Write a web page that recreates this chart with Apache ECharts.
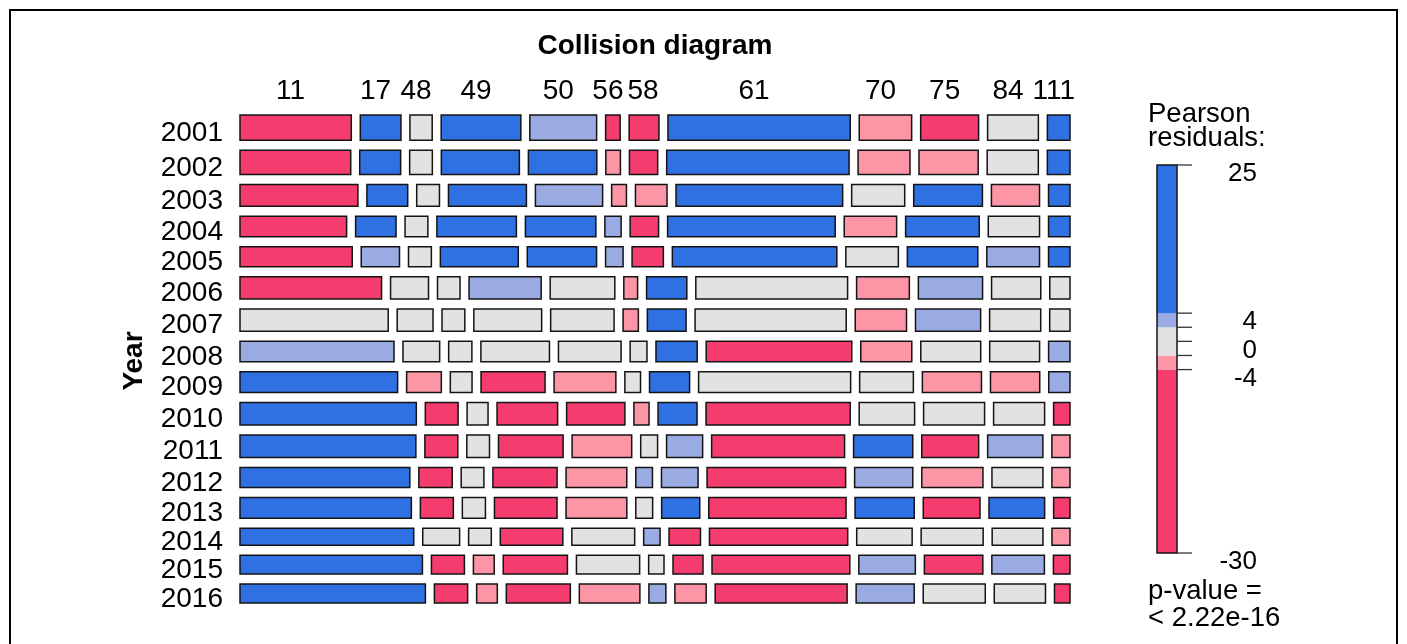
<!DOCTYPE html>
<html>
<head>
<meta charset="utf-8">
<title>Collision diagram</title>
<script src="https://cdn.jsdelivr.net/npm/echarts@6/dist/echarts.min.js"></script>
<style>
    html, body { margin: 0; padding: 0; background: #fff; }
    #main { width: 1407px; height: 644px; }
</style>
</head>
<body>
<div id="main"></div>
<script>
// years (rows) and collision types (columns)
var years = ['2001', '2002', '2003', '2004', '2005', '2006', '2007', '2008',
             '2009', '2010', '2011', '2012', '2013', '2014', '2015', '2016'];
var collisionTypes = ['11', '17', '48', '49', '50', '56', '58', '61', '70', '75', '84', '111'];

// counts per year
var counts = [
    [605, 221, 121, 433, 363, 79, 162, 991, 285, 315, 276, 123],
    [576, 213, 118, 406, 356, 76, 147, 949, 270, 308, 266, 118],
    [549, 190, 106, 363, 313, 69, 147, 776, 247, 320, 224, 100],
    [472, 179, 101, 352, 312, 72, 126, 742, 232, 326, 227, 95],
    [481, 164, 98, 334, 297, 75, 134, 705, 225, 302, 226, 92],
    [679, 182, 108, 346, 310, 66, 193, 728, 253, 308, 236, 97],
    [708, 171, 109, 324, 303, 73, 185, 722, 245, 311, 244, 97],
    [676, 161, 102, 301, 275, 74, 181, 639, 224, 263, 219, 94],
    [704, 155, 97, 286, 276, 70, 179, 679, 240, 264, 220, 95],
    [850, 158, 101, 292, 281, 73, 188, 695, 267, 294, 246, 79],
    [844, 158, 109, 310, 286, 81, 173, 638, 284, 273, 265, 87],
    [733, 144, 98, 277, 262, 72, 158, 598, 251, 264, 220, 78],
    [764, 147, 103, 279, 271, 75, 170, 612, 264, 253, 248, 73],
    [636, 135, 83, 229, 230, 60, 115, 506, 203, 227, 186, 66],
    [736, 133, 84, 259, 255, 62, 121, 556, 228, 236, 212, 67],
    [753, 135, 84, 260, 246, 69, 127, 536, 236, 252, 208, 63]
];

// Pearson residuals per tile (estimated from the shading)
var residuals = [
    [-29.2, 7.0, 0.3, 12.4, 3.6, -4.6, -7.6, 25.0, -3.1, -4.9, -0.8, 6.8],
    [-29.6, 7.1, 0.5, 9.9, 5.4, -2.6, -10.1, 23.8, -3.4, -2.8, -1.0, 6.7],
    [-22.8, 6.7, 0.4, 9.4, 3.2, -2.4, -2.7, 11.1, -1.2, 7.2, -3.3, 4.5],
    [-30.0, 5.5, 0.6, 10.2, 6.9, 2.6, -9.2, 10.9, -3.0, 11.8, -0.5, 4.6],
    [-26.3, 2.5, 0.6, 8.4, 5.4, 3.1, -5.2, 8.6, -1.1, 8.4, 2.4, 4.4],
    [-5.6, 1.2, 0.2, 3.2, 0.6, -2.3, 8.6, 0.5, -2.7, 2.6, -1.0, 0.4],
    [-0.3, -0.3, 0.5, -1.4, -0.2, -2.2, 6.1, -0.1, -3.2, 3.1, -0.3, 0.4],
    [2.9, 0.1, 0.6, -0.6, -0.9, 1.0, 9.7, -4.5, -2.5, -1.6, -1.2, 2.2],
    [6.3, -2.1, -0.4, -5.2, -2.3, 0.0, 8.3, 1.0, -0.5, -2.9, -2.1, 2.1],
    [20.6, -5.2, -0.9, -9.1, -5.9, -2.1, 7.1, -4.6, 1.0, -0.9, 0.1, -6.2],
    [19.7, -5.2, 0.3, -5.1, -3.0, 1.0, 2.5, -13.2, 5.8, -6.1, 3.3, -2.4],
    [14.5, -4.3, 0.3, -5.2, -2.8, 2.2, 2.6, -8.7, 3.6, -2.5, -0.3, -2.5],
    [15.9, -4.8, 0.6, -7.0, -2.8, 1.0, 5.4, -9.8, 5.6, -6.0, 5.3, -6.0],
    [16.3, 0.8, 0.4, -6.0, -0.3, 2.2, -4.5, -7.8, 1.1, 0.1, -0.6, -2.2],
    [22.1, -4.7, -2.3, -5.3, -0.6, -1.0, -6.5, -9.3, 2.2, -4.5, 2.4, -6.0],
    [24.9, -4.2, -2.4, -5.0, -2.5, 3.0, -3.6, -12.6, 3.5, 0.1, -0.6, -7.5]
];

// shading: |r| > 2 light, |r| > 4 full
var shadeBreaks = [-4, -2, 2, 4];
var shadeColors = ['#f43d6e', '#fc96a6', '#e2e2e2', '#9aabe3', '#2f70e3'];
var legendLabelValues = [4, 0, -4];
var legendTickValues = [4, 2, 0, -2, -4];

var FONT = "'Liberation Sans', Arial, sans-serif";
var gapX = 9 / 830, gapY = 10 / 488;

function shade(r) {
    var i = 0;
    while (i < shadeBreaks.length && r > shadeBreaks[i]) i++;
    return shadeColors[i];
}

var measureCtx = document.createElement('canvas').getContext('2d');
measureCtx.font = '28px ' + FONT;
function textWidth(s) { return measureCtx.measureText(s).width; }

// mosaic layout: rows by year total, tiles by share within the year
var rowTotals = counts.map(function (row) {
    return row.reduce(function (a, b) { return a + b; }, 0);
});
var grand = rowTotals.reduce(function (a, b) { return a + b; }, 0);
var availX = 1 - (collisionTypes.length - 1) * gapX;
var availY = 1 - (years.length - 1) * gapY;

var tiles = [], rowMids = [], colMids = [];
var y = 0;
counts.forEach(function (row, i) {
    var h = availY * rowTotals[i] / grand, x = 0;
    row.forEach(function (c, j) {
        var w = availX * c / rowTotals[i];
        tiles.push([x, x + w, y, y + h, residuals[i][j]]);
        if (i === 0) colMids.push([x + w / 2, j]);
        x += w + gapX;
    });
    rowMids.push([y + h / 2, i]);
    y += h + gapY;
});

// column labels sit over the first row, nudged apart when they would touch
function columnLabelXs(api) {
    var xs = [], prevRight = -Infinity;
    colMids.forEach(function (m, j) {
        var w = textWidth(collisionTypes[j]);
        var cx = api.coord([m[0], 0])[0] - 5;
        if (cx - w / 2 < prevRight + 4) cx = prevRight + 4 + w / 2;
        xs.push(cx);
        prevRight = cx + w / 2;
    });
    return xs;
}

var allRes = [].concat.apply([], residuals);
var resMin = Math.min.apply(null, allRes), resMax = Math.max.apply(null, allRes);
var edges = [resMin].concat(shadeBreaks, [resMax]);
var legendPieces = [];
for (var k = 0; k < shadeColors.length; k++) legendPieces.push([edges[k], edges[k + 1], k]);
var legendTicks = [resMax].concat(legendTickValues, [resMin]);
var legendLabels = [resMax].concat(legendLabelValues, [resMin]);

var myChart = echarts.init(document.getElementById('main'));

var option = {
    animation: false,
    backgroundColor: '#fff',
    grid: [
        {left: 240, top: 115, width: 830, height: 488},
        {left: 1157, top: 165, width: 20, height: 388}
    ],
    xAxis: [
        {gridIndex: 0, type: 'value', min: 0, max: 1, show: false},
        {gridIndex: 1, type: 'value', min: 0, max: 1, show: false}
    ],
    yAxis: [
        {gridIndex: 0, type: 'value', min: 0, max: 1, inverse: true, show: false},
        {gridIndex: 1, type: 'value', min: resMin, max: resMax, show: false}
    ],
    series: [
        {
            // mosaic tiles
            type: 'custom', xAxisIndex: 0, yAxisIndex: 0,
            data: tiles,
            renderItem: function (params, api) {
                var p0 = api.coord([api.value(0), api.value(2)]);
                var p1 = api.coord([api.value(1), api.value(3)]);
                return {
                    type: 'rect',
                    shape: {x: p0[0], y: p0[1], width: p1[0] - p0[0], height: p1[1] - p0[1]},
                    style: {fill: shade(api.value(4)), stroke: '#141414', lineWidth: 1.5}
                };
            }
        },
        {
            // year labels
            type: 'custom', xAxisIndex: 0, yAxisIndex: 0,
            data: rowMids,
            renderItem: function (params, api) {
                var p = api.coord([0, api.value(0)]);
                return {
                    type: 'text', x: p[0] - 17, y: p[1] + 5.5,
                    style: {
                        text: years[api.value(1)], fill: '#000',
                        font: '28px ' + FONT,
                        textAlign: 'right', textVerticalAlign: 'middle'
                    }
                };
            }
        },
        {
            // collision type labels
            type: 'custom', xAxisIndex: 0, yAxisIndex: 0,
            data: colMids,
            renderItem: function (params, api) {
                var xs = columnLabelXs(api);
                var j = api.value(1);
                var p = api.coord([0, 0]);
                return {
                    type: 'text', x: xs[j], y: p[1] - 24,
                    style: {
                        text: collisionTypes[j], fill: '#000',
                        font: '28px ' + FONT,
                        textAlign: 'center', textVerticalAlign: 'middle'
                    }
                };
            }
        },
        {
            // legend colour bar
            type: 'custom', xAxisIndex: 1, yAxisIndex: 1,
            data: legendPieces,
            renderItem: function (params, api) {
                var p0 = api.coord([0, api.value(1)]);
                var p1 = api.coord([1, api.value(0)]);
                return {
                    type: 'rect',
                    shape: {x: p0[0], y: p0[1], width: p1[0] - p0[0], height: p1[1] - p0[1]},
                    style: {fill: shadeColors[api.value(2)]}
                };
            }
        },
        {
            // legend outline
            type: 'custom', xAxisIndex: 1, yAxisIndex: 1,
            data: [[resMin, resMax]],
            z: 3,
            renderItem: function (params, api) {
                var p0 = api.coord([0, api.value(1)]);
                var p1 = api.coord([1, api.value(0)]);
                return {
                    type: 'rect',
                    shape: {x: p0[0], y: p0[1], width: p1[0] - p0[0], height: p1[1] - p0[1]},
                    style: {fill: 'none', stroke: '#141414', lineWidth: 1.5}
                };
            }
        },
        {
            // legend ticks
            type: 'custom', xAxisIndex: 1, yAxisIndex: 1,
            data: legendTicks.map(function (v) { return [v]; }),
            z: 3,
            renderItem: function (params, api) {
                var p = api.coord([1, api.value(0)]);
                return {
                    type: 'line',
                    shape: {x1: p[0], y1: p[1], x2: p[0] + 15, y2: p[1]},
                    style: {stroke: '#333', lineWidth: 1.3}
                };
            }
        },
        {
            // legend tick labels, hung below their ticks
            type: 'custom', xAxisIndex: 1, yAxisIndex: 1,
            data: legendLabels.map(function (v) { return [v]; }),
            renderItem: function (params, api) {
                var p = api.coord([1, api.value(0)]);
                return {
                    type: 'text', x: p[0] + 80, y: p[1] + 9,
                    style: {
                        text: String(Math.round(api.value(0))), fill: '#000',
                        font: '26px ' + FONT,
                        textAlign: 'right', textVerticalAlign: 'middle'
                    }
                };
            }
        }
    ],
    graphic: [
        {type: 'rect', shape: {x: 10, y: 10, width: 1387, height: 700},
         style: {fill: 'none', stroke: '#000', lineWidth: 2}},
        {type: 'text', x: 655, y: 46,
         style: {text: 'Collision diagram', font: 'bold 28px ' + FONT, fill: '#000',
                 textAlign: 'center', textVerticalAlign: 'middle'}},
        {type: 'text', x: 134, y: 361, rotation: Math.PI / 2,
         style: {text: 'Year', font: 'bold 28px ' + FONT, fill: '#000',
                 textAlign: 'center', textVerticalAlign: 'middle'}},
        {type: 'text', x: 1148, y: 114,
         style: {text: 'Pearson', font: '27.5px ' + FONT, fill: '#000',
                 textAlign: 'left', textVerticalAlign: 'middle'}},
        {type: 'text', x: 1148, y: 138,
         style: {text: 'residuals:', font: '27.5px ' + FONT, fill: '#000',
                 textAlign: 'left', textVerticalAlign: 'middle'}},
        {type: 'text', x: 1148, y: 591,
         style: {text: 'p-value =', font: '27.5px ' + FONT, fill: '#000',
                 textAlign: 'left', textVerticalAlign: 'middle'}},
        {type: 'text', x: 1148, y: 618,
         style: {text: '< 2.22e-16', font: '27.5px ' + FONT, fill: '#000',
                 textAlign: 'left', textVerticalAlign: 'middle'}}
    ]
};

myChart.setOption(option);
</script>
</body>
</html>
